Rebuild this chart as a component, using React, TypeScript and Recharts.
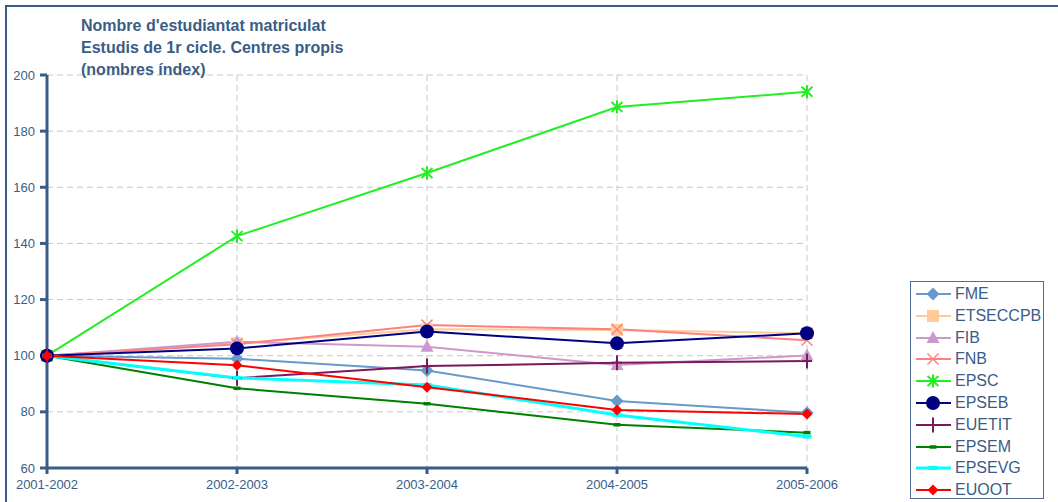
import { LineChart, Line, XAxis, YAxis, CartesianGrid } from 'recharts'

const years = ['2001-2002', '2002-2003', '2003-2004', '2004-2005', '2005-2006']
const yTicks = [60, 80, 100, 120, 140, 160, 180, 200]

const fme = [100, 98.9, 94.7, 83.9, 79.7]
const etseccpb = [100, 104.4, 109.4, 109.2, 108.0]
const fib = [100, 105.0, 103.2, 96.7, 100.1]
const fnb = [100, 104.1, 110.9, 109.4, 105.5]
const epsc = [100, 142.6, 165.1, 188.6, 194.0]
const epseb = [100, 102.6, 108.6, 104.4, 108.0]
const euetit = [100, 92.0, 96.3, 97.5, 98.1]
const epsem = [100, 88.4, 82.9, 75.4, 72.6]
const epsevg = [100, 92.1, 89.6, 78.9, 71.2]
const euoot = [100, 96.6, 88.8, 80.7, 79.2]

const titleLines = [
  "Nombre d'estudiantat matriculat",
  'Estudis de 1r cicle. Centres propis',
  '(nombres índex)',
]

type Shape = 'diamond' | 'square' | 'triangle' | 'x' | 'star' | 'circle' | 'plus' | 'dash' | 'bar' | 'smalldiamond'

const series: { key: string; values: number[]; color: string; shape: Shape; width: number }[] = [
  { key: 'FME', values: fme, color: '#6699cc', shape: 'diamond', width: 2 },
  { key: 'ETSECCPB', values: etseccpb, color: '#ffcc99', shape: 'square', width: 2 },
  { key: 'FIB', values: fib, color: '#cc99cc', shape: 'triangle', width: 2 },
  { key: 'FNB', values: fnb, color: '#ff8080', shape: 'x', width: 2 },
  { key: 'EPSC', values: epsc, color: '#22ee22', shape: 'star', width: 2 },
  { key: 'EPSEB', values: epseb, color: '#000080', shape: 'circle', width: 2 },
  { key: 'EUETIT', values: euetit, color: '#7a1a5c', shape: 'plus', width: 2 },
  { key: 'EPSEM', values: epsem, color: '#008000', shape: 'dash', width: 2 },
  { key: 'EPSEVG', values: epsevg, color: '#00ffff', shape: 'bar', width: 3 },
  { key: 'EUOOT', values: euoot, color: '#ff0000', shape: 'smalldiamond', width: 2 },
]

const data = years.map((year, i) => {
  const row: Record<string, string | number> = { year }
  series.forEach((s) => {
    row[s.key] = s.values[i]
  })
  return row
})

const ink = '#3a5d87'
const font = '"Liberation Sans", Arial, sans-serif'

function Marker({ shape, color, cx, cy }: { shape: Shape; color: string; cx: number; cy: number }) {
  switch (shape) {
    case 'diamond':
      return <polygon points={`${cx},${cy - 6.5} ${cx + 6.5},${cy} ${cx},${cy + 6.5} ${cx - 6.5},${cy}`} fill={color} />
    case 'smalldiamond':
      return <polygon points={`${cx},${cy - 5.5} ${cx + 5.5},${cy} ${cx},${cy + 5.5} ${cx - 5.5},${cy}`} fill={color} />
    case 'square':
      return <rect x={cx - 6} y={cy - 6} width={12} height={12} fill={color} />
    case 'triangle':
      return <polygon points={`${cx},${cy - 7} ${cx + 6.5},${cy + 5} ${cx - 6.5},${cy + 5}`} fill={color} />
    case 'x':
      return (
        <g stroke={color} strokeWidth={1.5}>
          <line x1={cx - 5.5} y1={cy - 5.5} x2={cx + 5.5} y2={cy + 5.5} />
          <line x1={cx - 5.5} y1={cy + 5.5} x2={cx + 5.5} y2={cy - 5.5} />
        </g>
      )
    case 'star':
      return (
        <g stroke={color} strokeWidth={2}>
          <line x1={cx - 5.5} y1={cy - 5} x2={cx + 5.5} y2={cy + 5} />
          <line x1={cx - 5.5} y1={cy + 5} x2={cx + 5.5} y2={cy - 5} />
          <line x1={cx} y1={cy - 6.5} x2={cx} y2={cy + 6.5} />
        </g>
      )
    case 'circle':
      return <circle cx={cx} cy={cy} r={7} fill={color} />
    case 'plus':
      return (
        <g stroke={color} strokeWidth={2}>
          <line x1={cx} y1={cy - 7.5} x2={cx} y2={cy + 7.5} />
          <line x1={cx - 5} y1={cy} x2={cx + 5} y2={cy} />
        </g>
      )
    case 'dash':
      return <rect x={cx - 3.5} y={cy - 1.75} width={7} height={3.5} fill={color} />
    case 'bar':
      return <rect x={cx - 4.5} y={cy - 2} width={9} height={4} fill={color} />
  }
  return null
}

export default function App() {
  return (
    <div style={{ position: 'absolute', left: 0, top: 0, width: 1058, height: 502, background: '#fff', fontFamily: font }}>
      <div
        style={{
          position: 'absolute',
          left: 5,
          top: 5,
          width: 1060,
          height: 510,
          borderTop: `2px solid ${ink}`,
          borderLeft: `2px solid ${ink}`,
        }}
      />
      <LineChart
        width={1058}
        height={502}
        data={data}
        margin={{ top: 75, right: 251, left: 0, bottom: 0 }}
        style={{ position: 'absolute', left: 0, top: 0 }}
      >
        <CartesianGrid stroke="#c8c8c8" strokeDasharray="6 4" />
        <XAxis
          dataKey="year"
          height={34}
          axisLine={{ stroke: ink, strokeWidth: 3 }}
          tickLine={{ stroke: ink, strokeWidth: 3 }}
          tickSize={6}
          tickMargin={6}
          tick={{ fontSize: 13, fontFamily: font, fill: ink }}
          interval={0}
        />
        <YAxis
          width={47}
          domain={[60, 200]}
          ticks={yTicks}
          axisLine={{ stroke: ink, strokeWidth: 3 }}
          tickLine={{ stroke: ink, strokeWidth: 3 }}
          tickSize={7}
          tickMargin={5}
          tick={{ fontSize: 13, fontFamily: font, fill: ink }}
        />
        {series.map((s) => (
          <Line
            key={s.key}
            dataKey={s.key}
            type="linear"
            stroke={s.color}
            strokeWidth={s.width}
            activeDot={false}
            isAnimationActive={false}
            dot={(p: { cx?: number; cy?: number; index?: number }) => (
              <g key={`${s.key}-${p.index}`}>
                <Marker shape={s.shape} color={s.color} cx={p.cx ?? 0} cy={p.cy ?? 0} />
              </g>
            )}
          />
        ))}
      </LineChart>
      <div
        style={{
          position: 'absolute',
          left: 81,
          top: 15,
          fontSize: 16,
          lineHeight: '22px',
          fontWeight: 'bold',
          color: ink,
          whiteSpace: 'nowrap',
        }}
      >
        {titleLines.map((t) => (
          <div key={t}>{t}</div>
        ))}
      </div>
      <div
        style={{
          position: 'absolute',
          left: 910,
          top: 281,
          width: 132,
          height: 216,
          border: '1px solid #4f6e93',
        }}
      >
        {series.map((s, i) => (
          <div
            key={s.key}
            style={{ position: 'absolute', left: 0, top: 1 + i * 21.8, height: 22, display: 'flex', alignItems: 'center' }}
          >
            <svg width={44} height={22} style={{ display: 'block' }}>
              <line x1={5} y1={11} x2={40} y2={11} stroke={s.color} strokeWidth={s.width} />
              <Marker shape={s.shape} color={s.color} cx={22} cy={11} />
            </svg>
            <span style={{ fontSize: 16, color: ink, lineHeight: '22px' }}>{s.key}</span>
          </div>
        ))}
      </div>
    </div>
  )
}
